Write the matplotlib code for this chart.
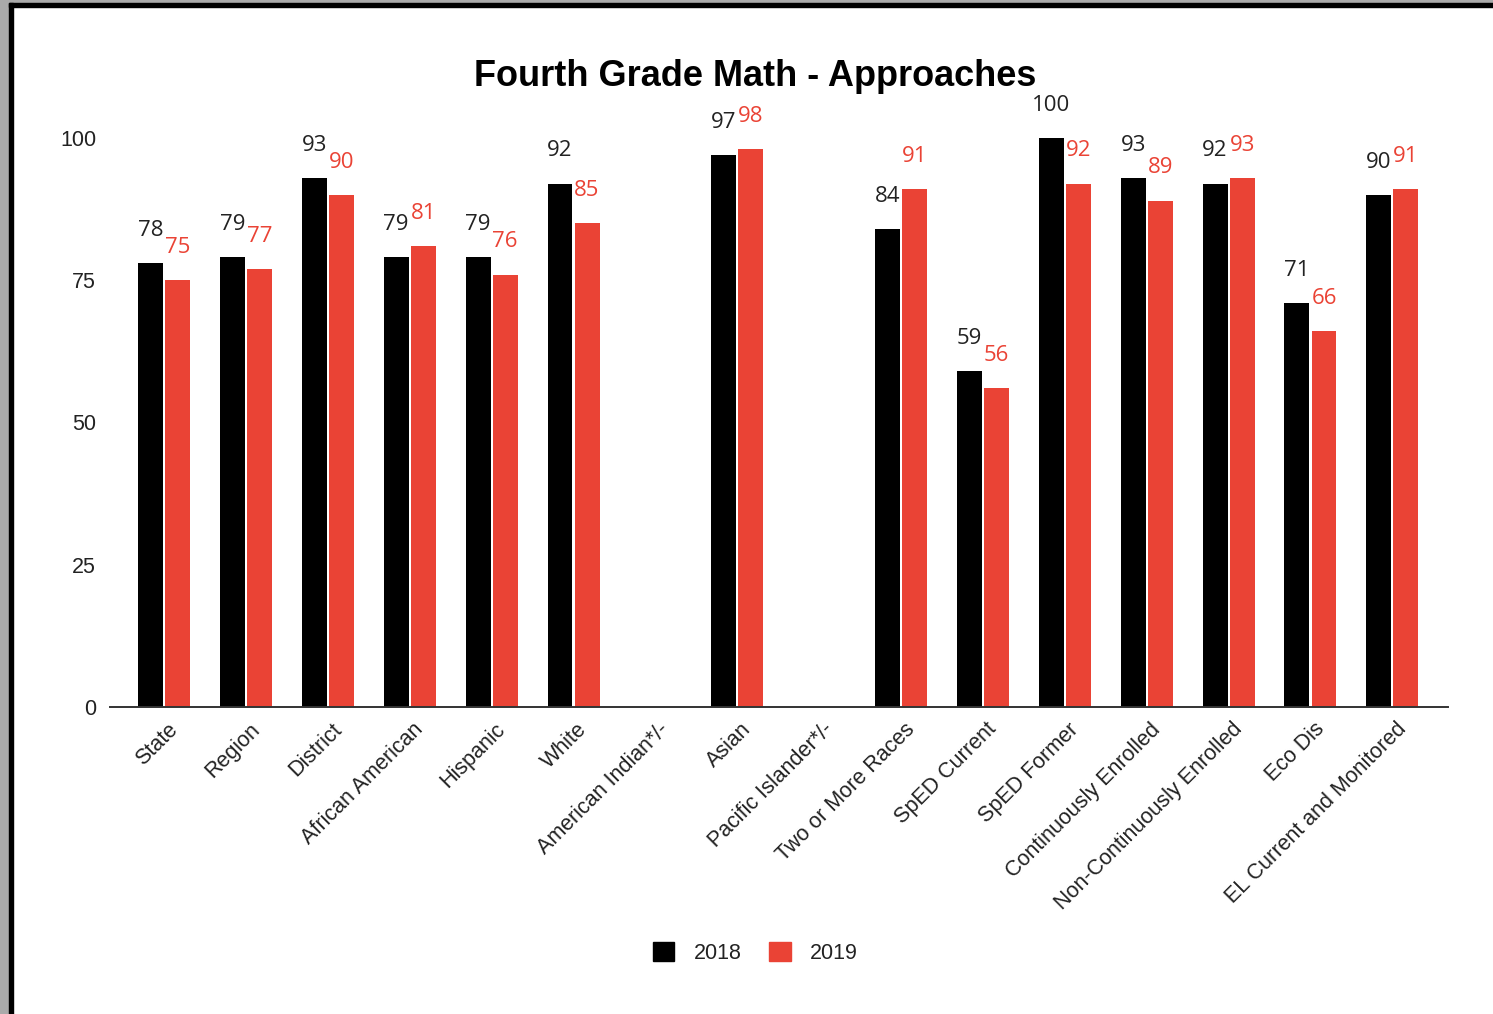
import matplotlib.pyplot as plt
import numpy as np
from matplotlib.patches import Rectangle

categories = ["State", "Region", "District", "African American", "Hispanic", "White",
              "American Indian*/-", "Asian", "Pacific Islander*/-", "Two or More Races",
              "SpED Current", "SpED Former", "Continuously Enrolled",
              "Non-Continuously Enrolled", "Eco Dis", "EL Current and Monitored"]
scores_2018 = [78, 79, 93, 79, 79, 92, None, 97, None, 84, 59, 100, 93, 92, 71, 90]
scores_2019 = [75, 77, 90, 81, 76, 85, None, 98, None, 91, 56, 92, 89, 93, 66, 91]
series = ["2018", "2019"]
yticks = [0, 25, 50, 75, 100]

BLACK = "#000000"
RED = "#ea4335"
LABEL_BLACK = "#222222"

plt.rcParams['font.family'] = ['Liberation Sans', 'DejaVu Sans']

fig = plt.figure(figsize=(14.93, 10.14), dpi=100)
ax = fig.add_axes([0.0737, 0.3028, 0.8962, 0.5611])

x = np.arange(len(categories))
w = 0.305
gap = 0.025

for vals, off, col, lcol in [(scores_2018, -(w + gap) / 2, BLACK, LABEL_BLACK),
                             (scores_2019, (w + gap) / 2, RED, RED)]:
    for xi, v in zip(x, vals):
        if v is None:
            continue
        ax.bar(xi + off, v, w, color=col, zorder=2)
        ax.annotate(str(v), (xi + off, v), xytext=(0, 23.5), textcoords='offset points',
                    ha='center', va='center', fontsize=16, color=lcol,
                    family=['Open Sans', 'DejaVu Sans'], annotation_clip=False)

ax.set_xlim(-0.66, len(categories) - 1 + 0.68)
ax.set_ylim(0, 100)
ax.set_yticks(yticks)
ax.set_yticklabels([str(t) for t in yticks], fontsize=15.5, color="#222222")
ax.tick_params(axis='y', length=0, pad=10)
ax.tick_params(axis='x', length=0, pad=0)
ax.set_xticks(x)
ax.set_xticklabels([])
for xi, name in zip(x, categories):
    ax.text(xi + 0.13, -3.4, name, rotation=45, ha='right', va='center',
            rotation_mode='anchor', fontsize=15.5, color="#222222")

for s in ['top', 'right', 'left']:
    ax.spines[s].set_visible(False)
ax.spines['bottom'].set_color("#333333")
ax.spines['bottom'].set_linewidth(1.4)

fig.text(0.506, 0.925, "Fourth Grade Math - Approaches", ha='center', va='center',
         fontsize=26, fontweight='bold', color="#000000")

handles = [Rectangle((0, 0), 1, 1, color=BLACK), Rectangle((0, 0), 1, 1, color=RED)]
fig.legend(handles, series, loc='center', bbox_to_anchor=(0.506, 0.06), ncol=2,
           frameon=False, fontsize=15.5, handlelength=1.0, handleheight=1.0,
           columnspacing=1.3, handletextpad=0.9, labelcolor="#222222")

# window frame around the chart
fig.patches.append(Rectangle((0, 0), 9 / 1493, 1, transform=fig.transFigure,
                             color="#aaaaaa", zorder=0))
fig.patches.append(Rectangle((0, 1 - 3 / 1014), 1, 3 / 1014, transform=fig.transFigure,
                             color="#aaaaaa", zorder=0))
fig.patches.append(Rectangle((9 / 1493, 0), 4 / 1493, 1 - 3 / 1014, transform=fig.transFigure,
                             color="#000000", zorder=0))
fig.patches.append(Rectangle((9 / 1493, 1 - 7 / 1014), 1, 4 / 1014, transform=fig.transFigure,
                             color="#000000", zorder=0))

fig.savefig("out.png", dpi=100)
